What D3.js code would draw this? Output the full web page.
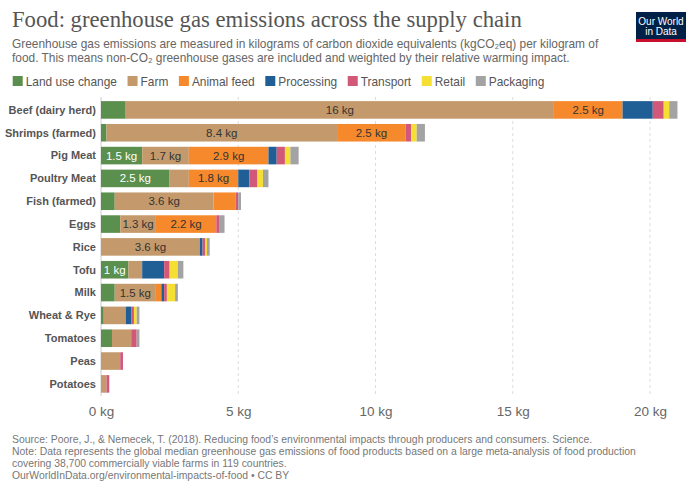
<!DOCTYPE html>
<html>
<head>
<meta charset="utf-8">
<script src="https://cdn.jsdelivr.net/npm/d3@7"></script>
<style>
  body { margin: 0; background: #fff; }
  svg { display: block; font-family: "Liberation Sans", Arial, sans-serif; }
</style>
</head>
<body>
<svg id="vis" width="699" height="494"></svg>
<script>
// food products, top to bottom
const foods = ["Beef (dairy herd)", "Shrimps (farmed)", "Pig Meat", "Poultry Meat", "Fish (farmed)",
    "Eggs", "Rice", "Tofu", "Milk", "Wheat & Rye", "Tomatoes", "Peas", "Potatoes"];

// kgCO2eq per kg of food, by supply chain stage
const landUse   = [0.9, 0.2, 1.5, 2.5, 0.5, 0.7, 0,   1.0, 0.5, 0.1, 0.4, 0,   0];
const farm      = [15.6, 8.4, 1.7, 0.7, 3.6, 1.3, 3.6, 0.5, 1.5, 0.8, 0.7, 0.7, 0.2];
const animalFeed= [2.5, 2.5, 2.9, 1.8, 0.8, 2.2, 0,   0,   0.2, 0,   0,   0,   0];
const processing= [1.1, 0,   0.3, 0.4, 0,   0,   0.1, 0.8, 0.1, 0.2, 0,   0,   0];
const transport = [0.4, 0.2, 0.3, 0.3, 0.1, 0.1, 0.1, 0.2, 0.1, 0.1, 0.2, 0.1, 0.1];
const retail    = [0.2, 0.2, 0.2, 0.2, 0,   0,   0.06, 0.3, 0.3, 0.1, 0,  0,   0];
const packaging = [0.3, 0.3, 0.3, 0.2, 0.1, 0.2, 0.1, 0.2, 0.1, 0.1, 0.1, 0,   0];

const stages = ["Land use change", "Farm", "Animal feed", "Processing", "Transport", "Retail", "Packaging"];
const stageValues = [landUse, farm, animalFeed, processing, transport, retail, packaging];
const stageColor = ["#5b8f4e", "#c49a6c", "#f6892c", "#1f5f95", "#d2587a", "#f5df35", "#a3a3a3"];
const xTicks = [0, 5, 10, 15, 20];

const svg = d3.select('#vis');

// table for the stack
const rows = foods.map(function (f, i) {
    const r = {food: f};
    stages.forEach(function (s, j) { r[s] = stageValues[j][i]; });
    return r;
});

const x = d3.scaleLinear().domain([0, 20]).range([101, 650]);
const y = d3.scaleBand().domain(foods).range([98.5, 395.3]).paddingInner(0.23).paddingOuter(0.115);

// title block
svg.append("text")
    .attr("x", 12).attr("y", 27)
    .style("font-family", "'Liberation Serif', 'DejaVu Serif', serif")
    .style("font-size", "22.7px")
    .attr("fill", "#555")
    .text("Food: greenhouse gas emissions across the supply chain");

const sub = svg.append("text")
    .style("font-size", "11.9px")
    .attr("fill", "#666");
sub.append("tspan").attr("x", 12).attr("y", 48)
    .text("Greenhouse gas emissions are measured in kilograms of carbon dioxide equivalents (kgCO₂eq) per kilogram of");
sub.append("tspan").attr("x", 12).attr("y", 62)
    .text("food. This means non-CO₂ greenhouse gases are included and weighted by their relative warming impact.");

// logo
const logo = svg.append("g").attr("transform", "translate(636,12)");
logo.append("rect").attr("width", 50).attr("height", 30).attr("fill", "#002147");
logo.append("rect").attr("y", 27).attr("width", 50).attr("height", 3).attr("fill", "#c8102e");
logo.append("text").attr("x", 25).attr("y", 12.5).attr("text-anchor", "middle")
    .attr("fill", "#fff").style("font-size", "10px").text("Our World");
logo.append("text").attr("x", 25).attr("y", 23).attr("text-anchor", "middle")
    .attr("fill", "#fff").style("font-size", "10px").text("in Data");

// legend
const legend = svg.append("g").attr("class", "legend");
let lx = 12.7;
stages.forEach(function (s, j) {
    legend.append("rect")
        .attr("x", lx).attr("y", 76)
        .attr("width", 10).attr("height", 10)
        .attr("fill", stageColor[j]);
    const t = legend.append("text")
        .attr("x", lx + 13).attr("y", 85.5)
        .style("font-size", "11.9px")
        .attr("fill", "#555")
        .text(s);
    lx += 13 + t.node().getComputedTextLength() + 10.6;
});

// grid
svg.append("g").selectAll("line")
    .data(xTicks)
    .enter().append("line")
    .attr("x1", function (d) { return x(d); })
    .attr("x2", function (d) { return x(d); })
    .attr("y1", 97).attr("y2", 396)
    .attr("stroke", function (d) { return d === 0 ? "#ccc" : "#ddd"; })
    .attr("stroke-dasharray", function (d) { return d === 0 ? null : "3,3"; });

// axis
const axis = svg.append("g")
    .attr("transform", "translate(0,403)")
    .call(d3.axisBottom(x).tickValues(xTicks).tickSize(0).tickFormat(function (d) { return d + " kg"; }));
axis.select(".domain").remove();
axis.selectAll("text")
    .style("font-family", "'Liberation Sans', Arial, sans-serif")
    .style("font-size", "13.5px")
    .attr("fill", "#666");

// bars
const series = d3.stack().keys(stages)(rows);
const fmt = d3.format(".2~r");

const layer = svg.append("g").selectAll(".layer")
    .data(series)
    .enter().append("g")
    .attr("class", "layer")
    .attr("fill", function (d, j) { return stageColor[j]; });

layer.selectAll("rect")
    .data(function (d) { return d; })
    .enter().append("rect")
    .attr("x", function (d) { return x(d[0]); })
    .attr("y", function (d) { return y(d.data.food); })
    .attr("width", function (d) { return Math.max(0, x(d[1]) - x(d[0])); })
    .attr("height", y.bandwidth());

// value labels on the wide segments (only the first three stages get them)
layer.each(function (s, j) {
    if (j > 2) return;
    d3.select(this).selectAll("text")
        .data(s.filter(function (d) { return d[1] - d[0] >= 1; }))
        .enter().append("text")
        .attr("x", function (d) { return (x(d[0]) + x(d[1])) / 2; })
        .attr("y", function (d) { return y(d.data.food) + y.bandwidth() / 2; })
        .attr("dy", "0.35em")
        .attr("text-anchor", "middle")
        .style("font-size", "11.5px")
        .attr("fill", j === 0 ? "#fff" : "#333")
        .text(function (d) { return fmt(d[1] - d[0]) + " kg"; });
});

// category labels
svg.append("g").selectAll("text")
    .data(foods)
    .enter().append("text")
    .attr("x", 96)
    .attr("y", function (d) { return y(d) + y.bandwidth() / 2; })
    .attr("dy", "0.35em")
    .attr("text-anchor", "end")
    .style("font-size", "11px")
    .style("font-weight", "bold")
    .attr("fill", "#555")
    .text(function (d) { return d; });

// footer
const notes = [
    "Source: Poore, J., & Nemecek, T. (2018). Reducing food’s environmental impacts through producers and consumers. Science.",
    "Note: Data represents the global median greenhouse gas emissions of food products based on a large meta-analysis of food production",
    "covering 38,700 commercially viable farms in 119 countries.",
    "OurWorldInData.org/environmental-impacts-of-food • CC BY"
];
svg.append("g").selectAll("text")
    .data(notes)
    .enter().append("text")
    .attr("x", 12)
    .attr("y", function (d, i) { return 443 + i * 12; })
    .style("font-size", "10.4px")
    .attr("fill", "#777")
    .text(function (d) { return d; });
</script>
</body>
</html>
